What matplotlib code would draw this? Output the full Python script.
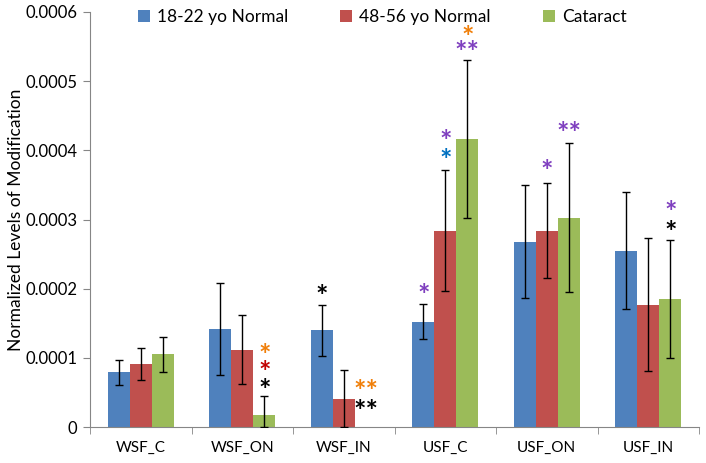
import numpy as np
import matplotlib.pyplot as plt

plt.rcParams['font.family'] = ['Lato', 'DejaVu Sans']

categories = ['WSF_C', 'WSF_ON', 'WSF_IN', 'USF_C', 'USF_ON', 'USF_IN']
series = ['18-22 yo Normal', '48-56 yo Normal', 'Cataract']
colors = ['#4F81BD', '#C0504D', '#9BBB59']

young = [0.000079, 0.000142, 0.000140, 0.000152, 0.000268, 0.000255]
young_lo = [0.000061, 0.000075, 0.000102, 0.000127, 0.000187, 0.000170]
young_hi = [0.000097, 0.000208, 0.000177, 0.000178, 0.000350, 0.000340]

older = [0.000091, 0.000112, 0.000040, 0.000284, 0.000284, 0.000177]
older_lo = [0.000068, 0.000062, 0.000000, 0.000196, 0.000216, 0.000081]
older_hi = [0.000114, 0.000162, 0.000082, 0.000372, 0.000353, 0.000273]

cataract = [0.000105, 0.000017, 0.0, 0.000416, 0.000302, 0.000185]
cataract_lo = [0.000080, 0.000000, 0.0, 0.000302, 0.000195, 0.000100]
cataract_hi = [0.000130, 0.000045, 0.0, 0.000530, 0.000410, 0.000271]

# significance marks: (category, series, y, text, colour)
marks = [
    (1, 2, 0.000108, '*', '#F07F09'),
    (1, 2, 0.000084, '*', '#C00000'),
    (1, 2, 0.000058, '*', 'black'),
    (2, 0, 0.000194, '*', 'black'),
    (2, 2, 0.000056, '**', '#F07F09'),
    (2, 2, 0.000027, '**', 'black'),
    (3, 0, 0.000196, '*', '#7F3FBF'),
    (3, 1, 0.000418, '*', '#7F3FBF'),
    (3, 1, 0.000391, '*', '#0070C0'),
    (3, 2, 0.000568, '*', '#F07F09'),
    (3, 2, 0.000546, '**', '#7F3FBF'),
    (4, 1, 0.000375, '*', '#7F3FBF'),
    (4, 2, 0.000430, '**', '#7F3FBF'),
    (5, 2, 0.000316, '*', '#7F3FBF'),
    (5, 2, 0.000287, '*', 'black'),
]

fig = plt.figure(figsize=(7.06, 4.63), dpi=100)
ax = fig.add_axes([90/706, 1-427/463, (699-90)/706, (427-12)/463])

x = np.arange(len(categories))
w = 0.217
data = [(young, young_lo, young_hi), (older, older_lo, older_hi),
        (cataract, cataract_lo, cataract_hi)]
for i, (vals, lo, hi) in enumerate(data):
    vals = np.array(vals)
    pos = x + (i - 1) * w
    ax.bar(pos, vals, w, color=colors[i], label=series[i], zorder=2)
    err = np.array([vals - np.array(lo), np.array(hi) - vals])
    show = np.array(hi) > 0
    ax.errorbar(pos[show], vals[show], yerr=err[:, show], fmt='none',
                ecolor='black', elinewidth=1, capsize=3, capthick=1, zorder=3)

# asterisk glyph sits high in its box, so nudge it down a little
for c, s, yv, txt, col in marks:
    ax.text(c + (s - 1) * w, yv - 0.000006, txt, color=col, fontsize=21,
            ha='center', va='center', fontweight='bold', zorder=4)

ax.set_xlim(-0.5, len(categories) - 0.5)
ax.set_ylim(0, 0.0006)
ax.set_yticks(np.arange(0, 0.00061, 0.0001))
ax.set_yticklabels(['0'] + ['%.4f' % v for v in np.arange(0.0001, 0.00061, 0.0001)])
ax.set_xticks(x)
ax.set_xticklabels(categories)
ax.set_xticks(np.arange(-0.5, len(categories), 1), minor=True)
ax.tick_params(axis='x', which='major', length=0, pad=10, labelsize=11)
ax.tick_params(axis='x', which='minor', length=5, color='#868686')
ax.tick_params(axis='y', length=5, color='#868686', labelsize=12, pad=4)
for sp in ['top', 'right']:
    ax.spines[sp].set_visible(False)
for sp in ['left', 'bottom']:
    ax.spines[sp].set_color('#868686')

ax.set_ylabel('Normalized Levels of Modification', fontsize=12.5, labelpad=1)
ax.legend(loc='upper center', bbox_to_anchor=(0.48, 1.045), ncol=3, frameon=False,
          fontsize=12.5, handlelength=0.7, handleheight=0.7, columnspacing=3.0,
          handletextpad=0.4)

fig.savefig('out.png', dpi=100)
